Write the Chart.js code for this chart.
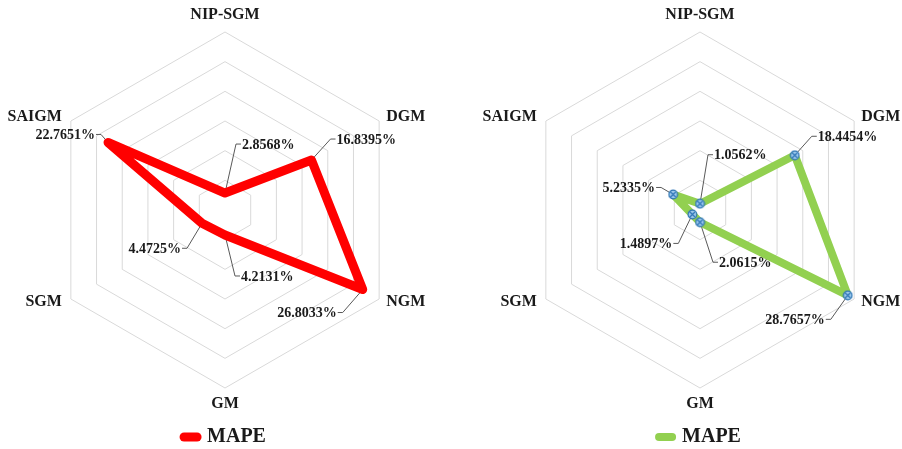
<!DOCTYPE html>
<html>
<head>
<meta charset="utf-8">
<script src="https://cdn.jsdelivr.net/npm/chart.js@4.4.0/dist/chart.umd.min.js"></script>
<style>
  html, body { margin: 0; padding: 0; background: #fff; overflow: hidden; }
  #wrap { width: 902px; height: 449px; position: relative; overflow: hidden; }
  .box { position: absolute; top: 0; height: 457px; }
</style>
</head>
<body>
<div id="wrap">
  <div class="box" style="left:0;width:451px"><canvas id="radarLeft"></canvas></div>
  <div class="box" style="left:451px;width:451px"><canvas id="radarRight"></canvas></div>
</div>
<script>
// axes, clockwise from the top
const models = ['NIP-SGM', 'DGM', 'NGM', 'GM', 'SGM', 'SAIGM'];
// MAPE (%) per model
const mapeLeft = [2.8568, 16.8395, 26.8033, 4.2131, 4.4725, 22.7651];
const mapeRight = [1.0562, 18.4454, 28.7657, 2.0615, 1.4897, 5.2335];
const rMax = 30, rStep = 5;

// where each callout bends (px from its point) and which side the text goes
const elbowsLeft = [[11, -49, 'r'], [19, -21, 'r'], [-20, 23, 'l'], [10, 41, 'r'], [-15, 25, 'l'], [-7, -8, 'l']];
const elbowsRight = [[8, -49, 'r'], [17, -19, 'r'], [-17, 24, 'l'], [13, 40, 'r'], [-14, 29, 'l'], [-12, -7, 'l']];
// axis name placement relative to the outer vertex: dx, dy, align
const nameSpots = [[0, -17, 'center'], [7, -4, 'left'], [7, 3, 'left'], [0, 16, 'center'], [-9, 3, 'right'], [-9, -4, 'right']];

const serif = '"Liberation Serif", "Times New Roman", serif';

// leader lines + value text, axis names
const calloutPlugin = {
  id: 'callouts',
  beforeDatasetsDraw(chart, args, opts) {
    const ctx = chart.ctx;
    const meta = chart.getDatasetMeta(0);
    const vals = chart.data.datasets[0].data;
    const scale = chart.scales.r;
    ctx.save();
    ctx.textBaseline = 'middle';
    ctx.fillStyle = '#1a1a1a';

    ctx.font = 'bold 16px ' + serif;
    chart.data.labels.forEach((name, i) => {
      const v = scale.getPointPosition(i, scale.drawingArea);
      const [dx, dy, align] = nameSpots[i];
      ctx.textAlign = align;
      ctx.fillText(name, v.x + dx, v.y + dy);
    });

    ctx.strokeStyle = '#595959';
    ctx.lineWidth = 1;
    ctx.font = 'bold 14px ' + serif;
    meta.data.forEach((pt, i) => {
      const [dx, dy, side] = opts.elbows[i];
      const ex = pt.x + dx, ey = pt.y + dy;
      const hx = side === 'r' ? ex + 5 : ex - 5;
      ctx.beginPath();
      ctx.moveTo(pt.x, pt.y);
      ctx.lineTo(ex, ey);
      ctx.lineTo(hx, ey);
      ctx.stroke();
      ctx.textAlign = side === 'r' ? 'left' : 'right';
      ctx.fillText(vals[i].toFixed(4) + '%', side === 'r' ? hx + 1 : hx - 1, ey + 1);
    });
    ctx.restore();
  }
};

// small circle-with-x marker like the office one
function makeMarker() {
  const c = document.createElement('canvas');
  c.width = 11; c.height = 11;
  const g = c.getContext('2d');
  g.fillStyle = '#9dc8ec';
  g.strokeStyle = '#2e75b6';
  g.lineWidth = 1.2;
  g.beginPath(); g.arc(5.5, 5.5, 4.3, 0, Math.PI * 2); g.fill(); g.stroke();
  g.beginPath();
  g.moveTo(3, 3); g.lineTo(8, 8);
  g.moveTo(8, 3); g.lineTo(3, 8);
  g.stroke();
  return c;
}

function makeRadar(id, values, color, lw, elbows, marker, pad) {
  new Chart(document.getElementById(id), {
    type: 'radar',
    data: {
      labels: models,
      datasets: [{
        label: 'MAPE',
        data: values,
        borderColor: color,
        backgroundColor: color,
        borderWidth: lw,
        fill: false,
        borderJoinStyle: 'round',
        pointRadius: marker ? 5 : 0,
        pointStyle: marker || 'circle'
      }]
    },
    options: {
      responsive: true,
      maintainAspectRatio: false,
      animation: false,
      layout: { padding: pad },
      scales: {
        r: {
          min: 0,
          max: rMax,
          ticks: { stepSize: rStep, display: false },
          grid: { color: '#d9d9d9', lineWidth: 1 },
          angleLines: { display: false },
          pointLabels: { display: false }
        }
      },
      plugins: {
        legend: {
          position: 'bottom',
          labels: {
            usePointStyle: true,
            pointStyleWidth: 13,
            font: { family: serif, size: 20, weight: 'bold' },
            color: '#1a1a1a',
            padding: 6,
            generateLabels(ch) {
              const items = Chart.defaults.plugins.legend.labels.generateLabels(ch);
              items.forEach(it => {
                it.pointStyle = 'line';
                it.lineCap = 'round';
                it.strokeStyle = color;
                it.lineWidth = lw;
              });
              return items;
            }
          }
        },
        tooltip: { enabled: false },
        callouts: { elbows: elbows }
      }
    },
    plugins: [calloutPlugin]
  });
}

makeRadar('radarLeft', mapeLeft, '#ff0000', 9, elbowsLeft, null, { top: 0, left: 47, right: 48, bottom: 0 });
makeRadar('radarRight', mapeRight, '#92d050', 8, elbowsRight, makeMarker(), { top: 0, left: 71, right: 24, bottom: 0 });
</script>
</body>
</html>
